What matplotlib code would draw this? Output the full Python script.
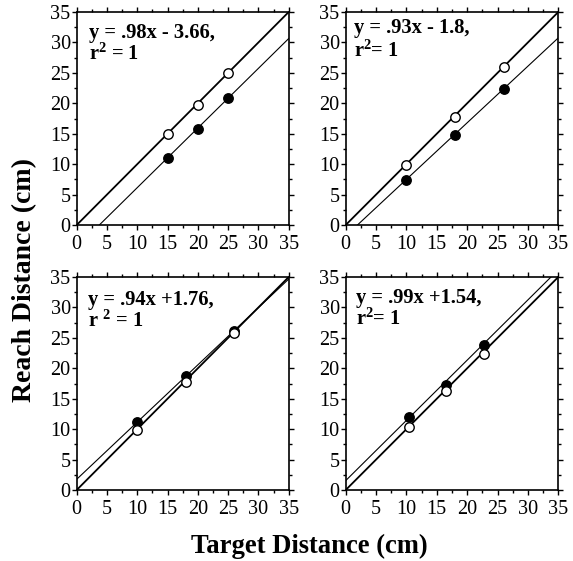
import numpy as np
import matplotlib
matplotlib.use("Agg")
import matplotlib.pyplot as plt
from matplotlib.ticker import MultipleLocator

plt.rcParams['font.family'] = ['Liberation Serif', 'DejaVu Serif']
plt.rcParams['mathtext.fontset'] = 'custom'
plt.rcParams['mathtext.rm'] = 'Liberation Serif:bold'
plt.rcParams['mathtext.bf'] = 'Liberation Serif:bold'
plt.rcParams['mathtext.it'] = 'Liberation Serif:bold'

# ---- data ----
target_tl = [15, 20, 25]
open_tl = [15.0, 19.8, 24.9]
filled_tl = [11.0, 15.7, 20.8]
slope_tl, icpt_tl = 0.98, -3.66
eq_tl = ["y = .98x - 3.66,", r"r$^{2}$ = 1"]

target_tr = [10, 18, 26]
open_tr = [9.9, 17.8, 25.9]
filled_tr = [7.4, 14.8, 22.3]
slope_tr, icpt_tr = 0.93, -1.8
eq_tr = ["y = .93x - 1.8,", r"r$^{2}$= 1"]

target_bl = [10, 18, 26]
open_bl = [9.8, 17.7, 25.8]
filled_bl = [11.1, 18.8, 26.1]
slope_bl, icpt_bl = 0.94, 1.76
eq_bl = ["y = .94x +1.76,", r"r $^{2}$ = 1"]

target_br = [10.5, 16.5, 22.8]
open_br = [10.3, 16.3, 22.4]
filled_br = [12.0, 17.3, 23.9]
slope_br, icpt_br = 0.99, 1.54
eq_br = ["y = .99x +1.54,", r"r$^{2}$= 1"]

axis_range = [0, 35]
ticks = [0, 5, 10, 15, 20, 25, 30, 35]
xlabel = "Target Distance (cm)"
ylabel = "Reach Distance (cm)"

panels = [
    (target_tl, open_tl, filled_tl, slope_tl, icpt_tl, eq_tl),
    (target_tr, open_tr, filled_tr, slope_tr, icpt_tr, eq_tr),
    (target_bl, open_bl, filled_bl, slope_bl, icpt_bl, eq_bl),
    (target_br, open_br, filled_br, slope_br, icpt_br, eq_br),
]

# ---- layout ----
fig = plt.figure(figsize=(5.73, 5.61), dpi=100)
W, H = 573, 561
rects_px = [(76.7, 12, 212, 213), (345.7, 12, 212.6, 213),
            (76.7, 277, 212, 213), (345.7, 277, 212.6, 213)]
text_pos = [(0.058, 0.878, 0.775), (0.039, 0.90, 0.79),
            (0.053, 0.868, 0.765), (0.048, 0.878, 0.775)]

for (x0, y0, w, h), (t, o, f, s, c, eq), (tx, ty1, ty2) in zip(rects_px, panels, text_pos):
    ax = fig.add_axes([x0 / W, 1 - (y0 + h) / H, w / W, h / H])
    xs = np.array(axis_range, dtype=float)
    ax.plot(xs, xs, color='black', lw=1.3, zorder=2)
    ax.plot(xs, s * xs + c, color='black', lw=0.8, zorder=2)
    ax.plot(t, f, 'o', ms=6.8, mfc='black', mec='black', mew=1.0, zorder=3)
    ax.plot(t, o, 'o', ms=6.8, mfc='white', mec='black', mew=1.0, zorder=3)
    ax.set_xlim(axis_range)
    ax.set_ylim(axis_range)
    ax.set_xticks(ticks)
    ax.set_yticks(ticks)
    ax.xaxis.set_minor_locator(MultipleLocator(2.5))
    ax.yaxis.set_minor_locator(MultipleLocator(2.5))
    ax.tick_params(which='both', direction='out', top=True, right=True,
                   width=1.0, labelsize=14.6, colors='black')
    ax.tick_params(which='major', length=3.5)
    ax.tick_params(which='minor', length=2.2)
    ax.tick_params(axis='y', pad=0.8)
    ax.tick_params(axis='x', pad=4.0)
    for sp in ax.spines.values():
        sp.set_linewidth(1.2)
    ax.text(tx, ty1, eq[0], transform=ax.transAxes, fontsize=14.8,
            fontweight='bold', va='baseline', ha='left')
    ax.text(tx, ty2, eq[1], transform=ax.transAxes, fontsize=14.8,
            fontweight='bold', va='baseline', ha='left')

fig.text(309 / W, 1 - 553 / H, xlabel, fontsize=19.2, fontweight='bold',
         ha='center', va='baseline')
fig.text(25 / W, 1 - 280 / H, ylabel, fontsize=20, fontweight='bold',
         ha='center', va='center', rotation=90)

fig.savefig("out.png", dpi=100)
